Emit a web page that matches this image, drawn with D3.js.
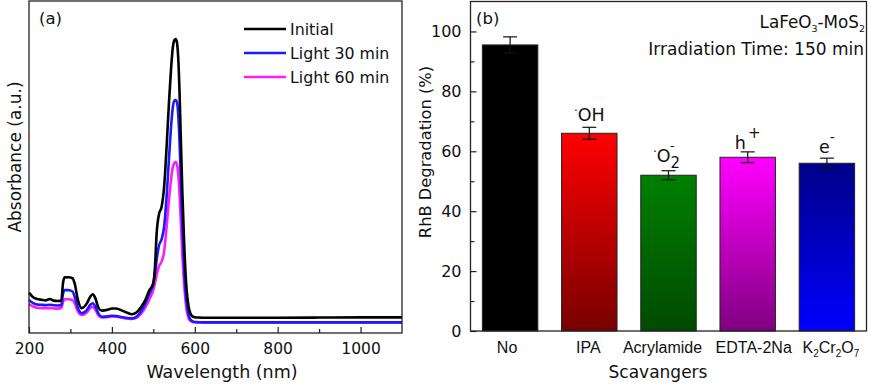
<!DOCTYPE html>
<html><head><meta charset="utf-8">
<script src="https://cdn.jsdelivr.net/npm/d3@7"></script>
<style>
body{margin:0;background:#fff;}
svg{display:block;}
text{font-family:"DejaVu Sans",Verdana,sans-serif;fill:#111;}
.cat{font-family:"Liberation Sans",Arial,sans-serif;}
</style></head><body>
<svg id="c" width="871" height="387"></svg>
<script>
// ---------- Panel (a) data ----------
const wavelengths = [200,210,220,230,240,250,260,270,278,282,286,295,305,310,318,327,340,348,354,360,368,376,390,400,410,425,437,448,460,470,480,490,500,504,508,514,520,526,532,538,543,547,551,554,557,560,563,566,570,575,580,585,590,595,600,610,620,650,700,800,900,1000,1100];
const initialAbs = [0.243,0.215,0.205,0.200,0.196,0.205,0.195,0.193,0.195,0.300,0.335,0.336,0.330,0.300,0.200,0.150,0.180,0.220,0.233,0.210,0.150,0.135,0.140,0.148,0.148,0.135,0.122,0.113,0.125,0.155,0.195,0.255,0.300,0.400,0.600,0.720,0.760,0.880,1.120,1.400,1.600,1.720,1.765,1.771,1.750,1.660,1.470,1.200,0.850,0.500,0.270,0.160,0.115,0.100,0.095,0.093,0.092,0.092,0.092,0.092,0.093,0.094,0.094];
const light30Abs  = [0.199,0.180,0.172,0.170,0.168,0.170,0.167,0.166,0.168,0.235,0.258,0.258,0.250,0.220,0.150,0.119,0.140,0.170,0.179,0.160,0.115,0.098,0.100,0.104,0.102,0.095,0.090,0.088,0.100,0.130,0.175,0.235,0.300,0.360,0.440,0.530,0.565,0.640,0.820,1.060,1.250,1.360,1.400,1.404,1.390,1.320,1.170,0.950,0.650,0.360,0.190,0.110,0.080,0.070,0.066,0.065,0.064,0.064,0.064,0.064,0.064,0.064,0.064];
const light60Abs  = [0.173,0.160,0.152,0.150,0.149,0.150,0.148,0.147,0.150,0.185,0.203,0.203,0.198,0.180,0.130,0.108,0.125,0.150,0.158,0.140,0.105,0.093,0.096,0.099,0.098,0.092,0.088,0.084,0.092,0.115,0.150,0.200,0.260,0.300,0.350,0.405,0.430,0.490,0.640,0.810,0.930,1.000,1.025,1.030,1.015,0.960,0.850,0.690,0.470,0.270,0.145,0.090,0.072,0.067,0.065,0.064,0.064,0.064,0.064,0.064,0.064,0.064,0.064];
const seriesNames = ["Initial","Light 30 min","Light 60 min"];
const xTicksA = [200,400,600,800,1000];

// ---------- Panel (b) data ----------
const categories = ["No","IPA","Acrylamide","EDTA-2Na","K2Cr2O7"];
const degradation = [95.5,66,52,58,56];
const errors = [2.7,2.0,1.5,1.8,1.7];
const yTicksB = [0,20,40,60,80,100];

// ---------- styles ----------
const lineColors = ["#000000","#1a1aff","#ff1aff"];
const barTop = ["#000000","#ff0000","#008000","#ff00ff","#000088"];
const barBottom = ["#000000","#780000","#004a00","#800080","#0000ff"];
const catLabelShift = [-3,-1,-6,6,4];

const svg = d3.select("#c");

// ================= Panel (a) =================
const A = {l:29,r:402,t:1,b:333};
const xA = d3.scaleLinear().domain([200,1100]).range([A.l,A.r]);
const yA = d3.scaleLinear().domain([0,2.0]).range([A.b,A.t]);
const gA = svg.append("g");

const line = d3.line().x(d=>xA(d[0])).y(d=>yA(d[1])).curve(d3.curveMonotoneX);
const allSeries = [initialAbs, light30Abs, light60Abs];
[2,1,0].forEach(i=>{
  gA.append("path").datum(wavelengths.map((w,j)=>[w,allSeries[i][j]]))
    .attr("d",line).attr("fill","none").attr("stroke",lineColors[i])
    .attr("stroke-width",2.6).attr("stroke-linejoin","round");
});

gA.append("rect").attr("x",A.l).attr("y",A.t).attr("width",A.r-A.l).attr("height",A.b-A.t)
  .attr("fill","none").attr("stroke","#222").attr("stroke-width",1.3);
const axA = gA.append("g").attr("transform",`translate(0,${A.b})`)
  .call(d3.axisBottom(xA).tickValues(xTicksA).tickSize(-6).tickPadding(10).tickFormat(d3.format("d")));
axA.select(".domain").remove();
axA.selectAll("line").attr("stroke","#222").attr("stroke-width",1.2);
axA.selectAll("text").attr("font-size",15.5).attr("font-family","DejaVu Sans").attr("fill","#111");
const axAm = gA.append("g").attr("transform",`translate(0,${A.b})`)
  .call(d3.axisBottom(xA).tickValues([300,500,700,900]).tickSize(-4).tickFormat(""));
axAm.select(".domain").remove();
axAm.selectAll("line").attr("stroke","#222").attr("stroke-width",1.2);

gA.append("text").attr("x",222).attr("y",378).attr("text-anchor","middle").attr("font-size",17.5).text("Wavelength (nm)");
gA.append("text").attr("transform","translate(21,157) rotate(-90)").attr("text-anchor","middle").attr("font-size",17).text("Absorbance (a.u.)");
gA.append("text").attr("x",39).attr("y",24).attr("font-size",16.5).text("(a)");

seriesNames.forEach((n,i)=>{
  const y = 29 + i*24;
  gA.append("line").attr("x1",244).attr("x2",286).attr("y1",y).attr("y2",y)
    .attr("stroke",lineColors[i]).attr("stroke-width",2.6);
  gA.append("text").attr("x",290).attr("y",y+6).attr("font-size",15.8).text(n);
});

// ================= Panel (b) =================
const B = {l:470.5,r:866.5,t:1.5,b:331};
const xB = d3.scaleBand().domain(categories).range([B.l,B.r]).paddingInner(0.3).paddingOuter(0.15);
const yB = d3.scaleLinear().domain([0,110]).range([B.b,B.t]);
const gB = svg.append("g");
const defs = svg.append("defs");
categories.forEach((c,i)=>{
  const gr = defs.append("linearGradient").attr("id","g"+i).attr("x1",0).attr("x2",0).attr("y1",0).attr("y2",1);
  gr.append("stop").attr("offset","0%").attr("stop-color",barTop[i]);
  gr.append("stop").attr("offset","100%").attr("stop-color",barBottom[i]);
});
gB.selectAll("rect.bar").data(categories).enter().append("rect").attr("class","bar")
  .attr("x",d=>xB(d)).attr("width",xB.bandwidth())
  .attr("y",(d,i)=>yB(degradation[i])).attr("height",(d,i)=>yB(0)-yB(degradation[i]))
  .attr("fill",(d,i)=>`url(#g${i})`).attr("stroke","#222").attr("stroke-width",1);

categories.forEach((c,i)=>{
  const cx = xB(c)+xB.bandwidth()/2;
  const y1 = yB(degradation[i]+errors[i]), y0 = yB(degradation[i]-errors[i]);
  gB.append("line").attr("x1",cx).attr("x2",cx).attr("y1",y1).attr("y2",y0).attr("stroke","#111").attr("stroke-width",1.2);
  gB.append("line").attr("x1",cx-7).attr("x2",cx+7).attr("y1",y1).attr("y2",y1).attr("stroke","#111").attr("stroke-width",1.2);
  gB.append("line").attr("x1",cx-7).attr("x2",cx+7).attr("y1",y0).attr("y2",y0).attr("stroke","#111").attr("stroke-width",1.2);
});

gB.append("rect").attr("x",B.l).attr("y",B.t).attr("width",B.r-B.l).attr("height",B.b-B.t)
  .attr("fill","none").attr("stroke","#222").attr("stroke-width",1.3);
const ayB = gB.append("g").attr("transform",`translate(${B.l},0)`)
  .call(d3.axisLeft(yB).tickValues(yTicksB).tickSize(-6).tickPadding(9));
ayB.select(".domain").remove();
ayB.selectAll("line").attr("stroke","#222").attr("stroke-width",1.2);
ayB.selectAll("text").attr("font-size",16).attr("font-family","DejaVu Sans").attr("fill","#111");
const ayBm = gB.append("g").attr("transform",`translate(${B.l},0)`)
  .call(d3.axisLeft(yB).tickValues([10,30,50,70,90]).tickSize(-4).tickFormat(""));
ayBm.select(".domain").remove();
ayBm.selectAll("line").attr("stroke","#222").attr("stroke-width",1.2);

const catLab = gB.append("g");
categories.forEach((c,i)=>{
  const cx = xB(c)+xB.bandwidth()/2 + catLabelShift[i];
  const t = catLab.append("text").attr("class","cat").attr("x",cx).attr("y",353).attr("text-anchor","middle").attr("font-size",16);
  if(c==="K2Cr2O7"){
    t.append("tspan").text("K");
    t.append("tspan").attr("font-size",10).attr("dy",4).text("2");
    t.append("tspan").attr("dy",-4).text("Cr");
    t.append("tspan").attr("font-size",10).attr("dy",4).text("2");
    t.append("tspan").attr("dy",-4).text("O");
    t.append("tspan").attr("font-size",10).attr("dy",4).text("7");
  } else t.text(c);
});

gB.append("text").attr("x",658).attr("y",378).attr("text-anchor","middle").attr("font-size",17).text("Scavangers");
gB.append("text").attr("transform","translate(431,152) rotate(-90)").attr("text-anchor","middle").attr("font-size",16.3).text("RhB Degradation (%)");
gB.append("text").attr("x",476).attr("y",24).attr("font-size",16.5).text("(b)");

const t1 = gB.append("text").attr("x",865).attr("y",28).attr("text-anchor","end").attr("font-size",16.8);
t1.append("tspan").text("LaFeO");
t1.append("tspan").attr("font-size",9.5).attr("dy",4).text("3");
t1.append("tspan").attr("dy",-4).text("-MoS");
t1.append("tspan").attr("font-size",9.5).attr("dy",4).text("2");
gB.append("text").attr("x",864).attr("y",55).attr("text-anchor","end").attr("font-size",17).text("Irradiation Time: 150 min");

const cxOf = i => xB(categories[i])+xB.bandwidth()/2;
const s1 = gB.append("text").attr("x",cxOf(1)).attr("y",yB(degradation[1]+errors[1])-6).attr("text-anchor","middle").attr("font-size",17.5);
s1.append("tspan").attr("font-size",12).attr("dy",-6).text("·");
s1.append("tspan").attr("dy",6).text("OH");
const s2 = gB.append("text").attr("x",cxOf(2)-2).attr("y",yB(degradation[2]+errors[2])-9).attr("text-anchor","middle").attr("font-size",17.5);
s2.append("tspan").attr("font-size",12).attr("dy",-6).text("·");
s2.append("tspan").attr("dy",6).text("O");
s2.append("tspan").attr("font-size",15).attr("dy",6).text("2");
s2.append("tspan").attr("font-size",13).attr("dx",-10).attr("dy",-18).text("-");
const s3 = gB.append("text").attr("x",cxOf(3)).attr("y",yB(degradation[3]+errors[3])-3).attr("text-anchor","middle").attr("font-size",17.5);
s3.append("tspan").text("h");
s3.append("tspan").attr("font-size",15).attr("dx",2).attr("dy",-11).text("+");
const s4 = gB.append("text").attr("x",cxOf(4)).attr("y",yB(degradation[4]+errors[4])-5).attr("text-anchor","middle").attr("font-size",17.5);
s4.append("tspan").text("e");
s4.append("tspan").attr("font-size",14).attr("dx",0).attr("dy",-11).text("-");
</script></body></html>
